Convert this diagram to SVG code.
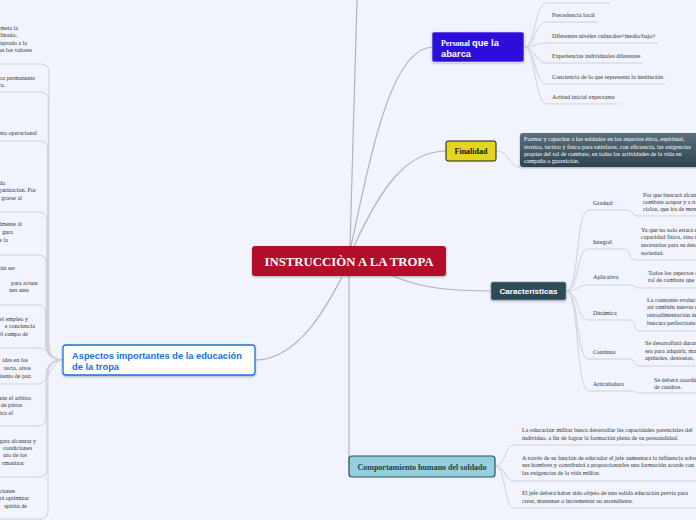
<svg xmlns="http://www.w3.org/2000/svg" width="696" height="520" viewBox="0 0 696 520">
<defs>
<filter id="sh" x="-10%" y="-20%" width="120%" height="150%"><feDropShadow dx="0" dy="1" stdDeviation="0.8" flood-color="#000" flood-opacity="0.3"/></filter>
<linearGradient id="slate" x1="0" y1="0" x2="0" y2="1"><stop offset="0" stop-color="#5b707c"/><stop offset="1" stop-color="#2f4350"/></linearGradient>
</defs>
<style>
.conn{fill:none;stroke:#b3b3b8;stroke-width:1.2}
.sub{fill:none;stroke:#d0d0d6;stroke-width:1}
.t{font-family:"Liberation Serif",serif;font-size:6.1px;fill:#333}
.tl{font-family:"Liberation Serif",serif;font-size:6.1px;fill:#333;text-anchor:end}
.tw{font-family:"Liberation Serif",serif;font-size:6.1px;fill:#fff}
</style>
<rect width="696" height="520" fill="#f1f4fc"/>
<g id="connectors">
<path class="conn" d="M350,246 L357,0"/>
<path class="conn" d="M351,246 C370,160 390,47 433,47"/>
<path class="conn" d="M354,246 C380,190 405,151 446,151"/>
<path class="conn" d="M393,276 C420,288 450,291 491,291"/>
<path class="conn" d="M349,276 V466"/>
<path class="conn" d="M342,277 C330,300 300,360 255,360"/>
<path class="sub" d="M496,151 C510,151 508,167 520,167"/>
<path class="sub" d="M524,47 C536,47 534,3 547,3 H610"/>
<path class="sub" d="M524,47 C536,47 534,22 547,22 H599"/>
<path class="sub" d="M524,47 C536,47 534,43 547,43 H658"/>
<path class="sub" d="M524,47 C536,47 534,63 547,63 H643"/>
<path class="sub" d="M524,47 C536,47 534,84 547,84 H665"/>
<path class="sub" d="M524,47 C536,47 534,104 547,104 H618"/>
<path class="sub" d="M566,291 C580,291 575,210 589,210 H627 C633,210 631,216 638,216 H700"/>
<path class="sub" d="M566,291 C580,291 575,249 589,249 H624 C631,249 628,260 636,260 H700"/>
<path class="sub" d="M566,291 C580,291 575,285 589,285 H630 C635,285 634,288 640,288 H700"/>
<path class="sub" d="M566,291 C580,291 575,320 589,320 H630 C636,320 633,331 640,331 H700"/>
<path class="sub" d="M566,291 C580,291 575,359 589,359 H630 C636,359 633,366 640,366 H700"/>
<path class="sub" d="M566,291 C580,291 575,391 589,391 H632 C636,391 635,393 640,393 H700"/>
<path class="sub" d="M495,466 C506,466 504,445 514,445 H700"/>
<path class="sub" d="M495,466 C506,466 504,481 514,481 H700"/>
<path class="sub" d="M495,466 C506,466 504,508 514,508 H700"/>
<path class="sub" d="M-2,64 H41 Q49,64 49,72 V345 Q49,360 63,360"/>
<path class="sub" d="M-2,92 H40 Q48.3,92 48.3,100 V345 Q48.3,360 63,360"/>
<path class="sub" d="M-2,141 H39.6 Q47.6,141 47.6,149 V345 Q47.6,360 63,360"/>
<path class="sub" d="M-2,212 H38.9 Q46.9,212 46.9,220 V345 Q46.9,360 63,360"/>
<path class="sub" d="M-2,255 H38.2 Q46.2,255 46.2,263 V345 Q46.2,360 63,360"/>
<path class="sub" d="M-2,305 H37.5 Q45.5,305 45.5,313 V345 Q45.5,360 63,360"/>
<path class="sub" d="M-2,348 H38 C50,348 50,360 63,360"/>
<path class="sub" d="M-2,384 H38 C50,384 50,360 63,360"/>
<path class="sub" d="M-2,426 H38 Q46,426 46,418 V375 Q46,360 63,360"/>
<path class="sub" d="M-2,477 H39 Q47,477 47,469 V375 Q47,360 63,360"/>
<path class="sub" d="M-2,519 H40 Q48,519 48,511 V375 Q48,360 63,360"/>
</g>
<g id="central">
<rect x="252" y="246" width="194" height="30" rx="3" fill="#b30b29" filter="url(#sh)"/>
<text x="349" y="265.5" text-anchor="middle" font-family="Liberation Serif, serif" font-weight="bold" font-size="12.8" fill="#fff">INSTRUCCIÒN A LA TROPA</text>
</g>
<g id="personal">
<rect x="432" y="32" width="92" height="30" rx="2" fill="#2d10da" stroke="#e8e6fb" stroke-width="0.6" filter="url(#sh)"/>
<text x="441" y="46" fill="#fff" font-weight="bold"><tspan font-family="Liberation Serif, serif" font-size="7.8">Personal </tspan><tspan font-family="Liberation Sans, sans-serif" font-size="9.3">que la</tspan></text>
<text x="441" y="56.5" fill="#fff" font-weight="bold" font-family="Liberation Sans, sans-serif" font-size="9.3">abarca</text>
</g>
<g id="personal-children">
<text class="t" x="552" y="17">Precedencia local</text>
<text class="t" x="552" y="38">Diferentes niveles culturales&lt;medio/bajo&gt;</text>
<text class="t" x="552" y="58">Experiencias individuales diferentes</text>
<text class="t" x="552" y="79">Conciencia de lo que representa la institución</text>
<text class="t" x="552" y="99">Actitud inicial expectante</text>
</g>
<g id="finalidad">
<rect x="446" y="141" width="50" height="20" rx="2" fill="#e3d621" stroke="#1a1a1a" stroke-width="1"/>
<text x="471" y="153.8" text-anchor="middle" font-family="Liberation Serif, serif" font-weight="bold" font-size="8" fill="#111">Finalidad</text>
</g>
<g id="finalidad-desc">
<rect x="520" y="133" width="190" height="34" rx="3" fill="url(#slate)" filter="url(#sh)"/>
<text class="tw" x="524" y="141">Formar y capacitar a los soldados en los aspectos ético, espiritual,</text>
<text class="tw" x="524" y="149">tecnico, tactico y fisico para satisfacer, con eficiencia, las exigencias</text>
<text class="tw" x="524" y="156">propias del rol de combate, en todas las actividades de la vida en</text>
<text class="tw" x="524" y="163">campaña o guarnición.</text>
</g>
<g id="caracteristicas">
<rect x="491" y="282" width="75" height="18" rx="2" fill="#2f4959" stroke="#8aa0ad" stroke-width="0.6" filter="url(#sh)"/>
<text x="528.5" y="294" text-anchor="middle" font-family="Liberation Sans, sans-serif" font-weight="bold" font-size="8.1" fill="#fff">Características</text>
</g>
<g id="caracteristicas-children">
<text class="t" x="593" y="205">Gradual</text>
<text class="t" x="593" y="244">Integral</text>
<text class="t" x="593" y="279">Aplicativa</text>
<text class="t" x="593" y="315">Dinámica</text>
<text class="t" x="593" y="354">Continua</text>
<text class="t" x="593" y="386">Articuladora</text>
<text class="t" x="643" y="197">Por que buscará alcan</text>
<text class="t" x="643" y="204">combate ocupar y a tra</text>
<text class="t" x="643" y="211">ciclos, que ira de meno</text>
<text class="t" x="641" y="232">Ya que no solo estará e</text>
<text class="t" x="641" y="239">capacidad física, sino t</text>
<text class="t" x="641" y="247">necesarios para su desa</text>
<text class="t" x="641" y="255">sociedad.</text>
<text class="t" x="648" y="275">Todos los aspectos d</text>
<text class="t" x="648" y="282">rol de combate que</text>
<text class="t" x="647" y="302">La constante evoluci</text>
<text class="t" x="647" y="309">así también nuevas n</text>
<text class="t" x="647" y="317">retroalimentación de</text>
<text class="t" x="647" y="325">buscara perfecciona</text>
<text class="t" x="645" y="345">Se desarrollará durant</text>
<text class="t" x="645" y="353">sea para adquirir, ma</text>
<text class="t" x="645" y="360">aptitudes, destrezas,</text>
<text class="t" x="654" y="382">Se deberá coordin</text>
<text class="t" x="654" y="389">de cuadros.</text>
</g>
<g id="comportamiento">
<rect x="349" y="456" width="146" height="21" rx="3" fill="#95d0de" stroke="#2f4f5d" stroke-width="1.2"/>
<text x="422" y="469.5" text-anchor="middle" font-family="Liberation Serif, serif" font-weight="bold" font-size="8" fill="#263c48">Comportamiento humano del soldado</text>
</g>
<g id="comportamiento-children">
<text class="t" x="522" y="432">La educación militar busca desarrollar las capacidades potenciales del</text>
<text class="t" x="522" y="440">individuo, a fin de lograr la formación plena de su personalidad.</text>
<text class="t" x="522" y="460">A través de su función de educador el jefe aumentara la influencia sobre</text>
<text class="t" x="522" y="467">sus hombres y contribuirá a proporcionarles una formación acorde con</text>
<text class="t" x="522" y="475">las exigencias de la vida militar.</text>
<text class="t" x="522" y="495">El jefe deberá haber sido objeto de una solida educación previa para</text>
<text class="t" x="522" y="503">crear, mantener o incrementar su ascendiente.</text>
</g>
<g id="aspectos">
<rect x="63" y="345" width="192" height="30" rx="3" fill="#fff" stroke="#1e73d8" stroke-width="1.3" filter="url(#sh)"/>
<text x="72" y="359" font-family="Liberation Sans, sans-serif" font-weight="bold" font-size="9.3" fill="#1a6fd8">Aspectos importantes de la educación</text>
<text x="72" y="369.5" font-family="Liberation Sans, sans-serif" font-weight="bold" font-size="9.3" fill="#1a6fd8">de la tropa</text>
</g>
<g id="aspectos-children">
<text class="tl" x="18" y="30">meta la</text>
<text class="tl" x="17" y="37">linado,</text>
<text class="tl" x="27" y="45">laptado a la</text>
<text class="tl" x="32" y="52">on los valores</text>
<text class="tl" x="35" y="80">ra permanente</text>
<text class="tl" x="5" y="87">ca.</text>
<text class="tl" x="37" y="135">nto operacional</text>
<text class="tl" x="5" y="185">gida</text>
<text class="tl" x="36" y="192">ganización. Por</text>
<text class="tl" x="22" y="200">grarse al</text>
<text class="tl" x="22" y="226">lmente al</text>
<text class="tl" x="13" y="234">gura</text>
<text class="tl" x="8" y="242">e la</text>
<text class="tl" x="15" y="270">rán ser</text>
<text class="tl" x="38" y="285">para actuar</text>
<text class="tl" x="29" y="292">nes ante</text>
<text class="tl" x="28" y="321">el empleo y</text>
<text class="tl" x="35" y="328">e conciencia</text>
<text class="tl" x="28" y="336">el campo de</text>
<text class="tl" x="28" y="362">idas en los</text>
<text class="tl" x="31" y="370">recta, otros</text>
<text class="tl" x="32" y="378">miento de paz.</text>
<text class="tl" x="31" y="400">nte el arbitro</text>
<text class="tl" x="22" y="407">de pistas</text>
<text class="tl" x="13" y="415">ica el</text>
<text class="tl" x="36" y="443">gara alcanzar y</text>
<text class="tl" x="32" y="450">condiciones</text>
<text class="tl" x="27" y="457">uto de los</text>
<text class="tl" x="24" y="465">rmonizar</text>
<text class="tl" x="15" y="493">ciones</text>
<text class="tl" x="29" y="500">rá optimizar</text>
<text class="tl" x="27" y="508">spíritu de</text>
</g>
</svg>
